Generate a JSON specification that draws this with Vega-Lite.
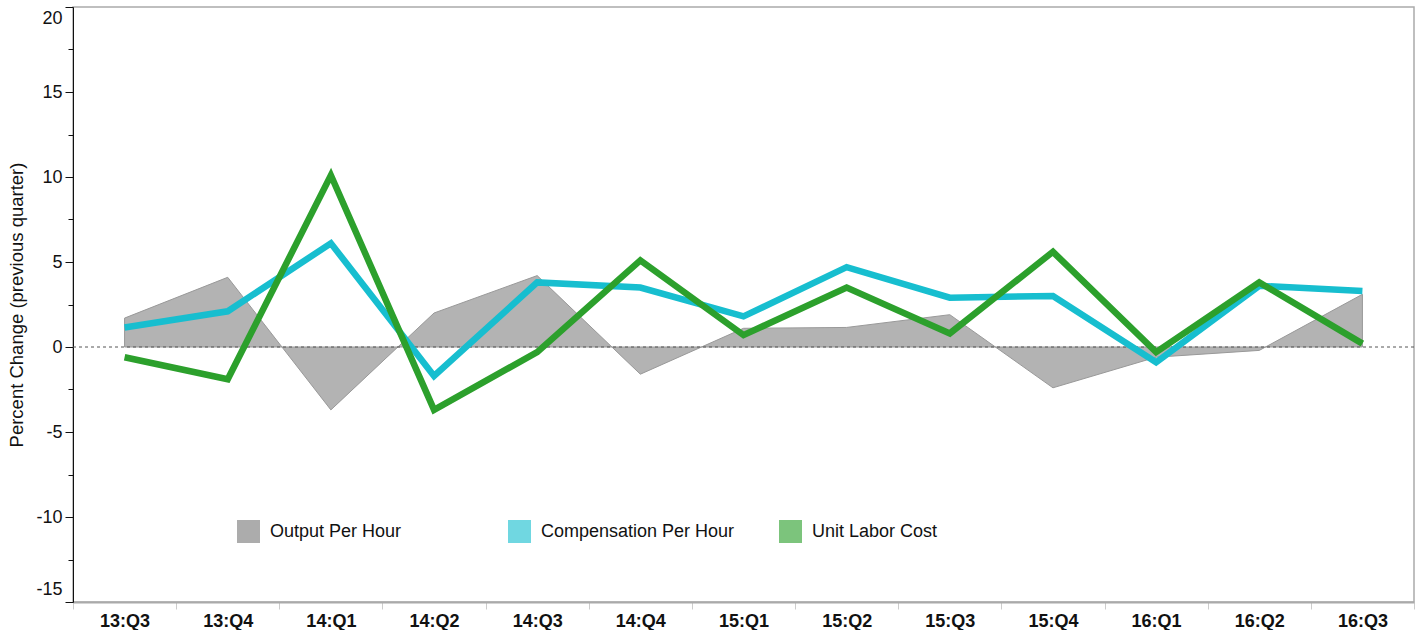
{
  "$schema": "https://vega.github.io/schema/vega-lite/v6.json",
  "width": 1341,
  "height": 595,
  "autosize": {"type": "none"},
  "padding": {"left": 73, "top": 7, "right": 10, "bottom": 28},
  "config": {
    "font": "Liberation Sans",
    "view": {"stroke": "#aaaaaa", "strokeWidth": 1.5},
    "axis": {"labelFont": "Liberation Sans", "titleFont": "Liberation Sans", "grid": false}
  },
  "data": {
    "values": [
      {"quarter": "13:Q3", "series": "Output Per Hour", "value": 1.7},
      {"quarter": "13:Q4", "series": "Output Per Hour", "value": 4.1},
      {"quarter": "14:Q1", "series": "Output Per Hour", "value": -3.7},
      {"quarter": "14:Q2", "series": "Output Per Hour", "value": 2.0},
      {"quarter": "14:Q3", "series": "Output Per Hour", "value": 4.2},
      {"quarter": "14:Q4", "series": "Output Per Hour", "value": -1.6},
      {"quarter": "15:Q1", "series": "Output Per Hour", "value": 1.1},
      {"quarter": "15:Q2", "series": "Output Per Hour", "value": 1.15},
      {"quarter": "15:Q3", "series": "Output Per Hour", "value": 1.9},
      {"quarter": "15:Q4", "series": "Output Per Hour", "value": -2.4},
      {"quarter": "16:Q1", "series": "Output Per Hour", "value": -0.6},
      {"quarter": "16:Q2", "series": "Output Per Hour", "value": -0.2},
      {"quarter": "16:Q3", "series": "Output Per Hour", "value": 3.1},
      {"quarter": "13:Q3", "series": "Compensation Per Hour", "value": 1.15},
      {"quarter": "13:Q4", "series": "Compensation Per Hour", "value": 2.1},
      {"quarter": "14:Q1", "series": "Compensation Per Hour", "value": 6.1},
      {"quarter": "14:Q2", "series": "Compensation Per Hour", "value": -1.7},
      {"quarter": "14:Q3", "series": "Compensation Per Hour", "value": 3.8},
      {"quarter": "14:Q4", "series": "Compensation Per Hour", "value": 3.5},
      {"quarter": "15:Q1", "series": "Compensation Per Hour", "value": 1.8},
      {"quarter": "15:Q2", "series": "Compensation Per Hour", "value": 4.7},
      {"quarter": "15:Q3", "series": "Compensation Per Hour", "value": 2.9},
      {"quarter": "15:Q4", "series": "Compensation Per Hour", "value": 3.0},
      {"quarter": "16:Q1", "series": "Compensation Per Hour", "value": -0.9},
      {"quarter": "16:Q2", "series": "Compensation Per Hour", "value": 3.6},
      {"quarter": "16:Q3", "series": "Compensation Per Hour", "value": 3.3},
      {"quarter": "13:Q3", "series": "Unit Labor Cost", "value": -0.6},
      {"quarter": "13:Q4", "series": "Unit Labor Cost", "value": -1.9},
      {"quarter": "14:Q1", "series": "Unit Labor Cost", "value": 10.1},
      {"quarter": "14:Q2", "series": "Unit Labor Cost", "value": -3.7},
      {"quarter": "14:Q3", "series": "Unit Labor Cost", "value": -0.3},
      {"quarter": "14:Q4", "series": "Unit Labor Cost", "value": 5.1},
      {"quarter": "15:Q1", "series": "Unit Labor Cost", "value": 0.7},
      {"quarter": "15:Q2", "series": "Unit Labor Cost", "value": 3.5},
      {"quarter": "15:Q3", "series": "Unit Labor Cost", "value": 0.8},
      {"quarter": "15:Q4", "series": "Unit Labor Cost", "value": 5.6},
      {"quarter": "16:Q1", "series": "Unit Labor Cost", "value": -0.3},
      {"quarter": "16:Q2", "series": "Unit Labor Cost", "value": 3.8},
      {"quarter": "16:Q3", "series": "Unit Labor Cost", "value": 0.2}
    ]
  },
  "encoding": {
    "x": {
      "field": "quarter",
      "type": "ordinal",
      "sort": null,
      "bandPosition": 0.5,
      "scale": {"type": "band", "paddingInner": 0, "paddingOuter": 0},
      "axis": {
        "title": null,
        "labelAngle": 0,
        "labelFontSize": 18,
        "labelFontWeight": "bold",
        "labelColor": "#111111",
        "labelPadding": 3,
        "tickBand": "extent",
        "tickColor": "#cccccc",
        "tickSize": 7,
        "domainColor": "#aaaaaa",
        "domainWidth": 2
      }
    },
    "y": {
      "field": "value",
      "type": "quantitative",
      "scale": {"domain": [-15, 20], "nice": false, "zero": false},
      "axis": {
        "title": "Percent Change (previous quarter)",
        "titleFontSize": 18.5,
        "titleFontWeight": "normal",
        "titleColor": "#111111",
        "titlePadding": 9,
        "values": [-15, -12.5, -10, -7.5, -5, -2.5, 0, 2.5, 5, 7.5, 10, 12.5, 15, 17.5, 20],
        "labelExpr": "datum.value % 5 === 0 ? '' + datum.value : ''",
        "labelFontSize": 18,
        "labelColor": "#111111",
        "labelPadding": 3,
        "labelFlush": false,
        "labelOffset": {"condition": [{"test": "datum.value === 20", "value": 11}, {"test": "datum.value === -15", "value": -13}], "value": 0},
        "tickColor": "#111111",
        "tickSize": {"condition": {"test": "datum.value % 5 === 0", "value": 8}, "value": 5},
        "domainColor": "#111111",
        "domainWidth": 1
      }
    }
  },
  "layer": [
    {
      "transform": [{"filter": "datum.series === 'Output Per Hour'"}],
      "mark": {"type": "area", "fill": "#b3b3b3", "stroke": "#999999", "strokeWidth": 1, "opacity": 1}
    },
    {
      "data": {"values": [{"y0": 0}]},
      "mark": {"type": "rule", "color": "#555555", "strokeDash": [3, 3], "strokeWidth": 1},
      "encoding": {"y": {"field": "y0", "type": "quantitative"}, "x": null}
    },
    {
      "transform": [{"filter": "datum.series !== 'Output Per Hour'"}],
      "mark": {"type": "line", "strokeWidth": 6.5},
      "encoding": {
        "color": {
          "field": "series",
          "type": "nominal",
          "scale": {"domain": ["Compensation Per Hour", "Unit Labor Cost"], "range": ["#17becf", "#2ca02c"]},
          "legend": null
        }
      }
    },
    {
      "transform": [{"filter": "datum.series === 'none'"}],
      "mark": {"type": "square", "filled": true, "opacity": 1},
      "encoding": {
        "fill": {
          "field": "series",
          "type": "nominal",
          "scale": {
            "domain": ["Output Per Hour", "Compensation Per Hour", "Unit Labor Cost"],
            "range": ["#acacac", "#70d7e1", "#7cc47c"]
          },
          "legend": {
            "title": null,
            "orient": "none",
            "legendX": 164,
            "legendY": 513,
            "direction": "horizontal",
            "padding": 0,
            "symbolType": "square",
            "symbolSize": 529,
            "symbolStrokeWidth": 0,
            "symbolOpacity": 1,
            "labelFontSize": 18,
            "labelColor": "#111111",
            "labelOffset": 10,
            "columnPadding": 44,
            "gridAlign": "all",
            "labelLimit": 400
          }
        }
      }
    }
  ]
}
